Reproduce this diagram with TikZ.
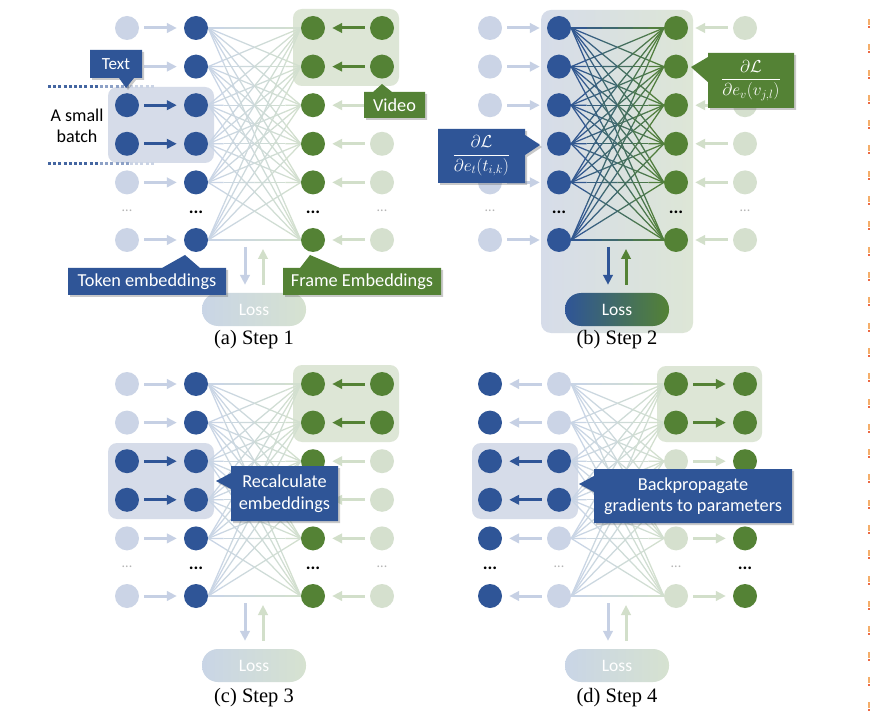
\documentclass[tikz,border=0pt]{standalone}
\usepackage{fontspec}
\setmainfont{Carlito}
\newfontfamily\capfont{Liberation Serif}
\usetikzlibrary{arrows.meta,shadows,calc}
\definecolor{dblue}{HTML}{2F5597}
\definecolor{dgreen}{HTML}{548235}
\definecolor{fblue}{HTML}{CBD4E6}
\definecolor{fgreen}{HTML}{D5E0CE}
\definecolor{boxblue}{HTML}{D6DCE9}
\definecolor{boxgreen}{HTML}{DDE6D6}
\definecolor{eblue}{HTML}{C8D4E7}
\definecolor{egreen}{HTML}{D3E0CC}
\definecolor{ablue}{HTML}{C6D0E4}
\definecolor{agreen}{HTML}{D2DFCA}
\definecolor{lossbl}{HTML}{C9D5E6}
\definecolor{lossgr}{HTML}{D6E2D0}
\definecolor{dotgray}{HTML}{B5B5B5}
\definecolor{markor}{HTML}{F5AE6A}
\definecolor{markrd}{HTML}{EC6A45}
\pgfdeclarelayer{paper}
\pgfdeclarelayer{boxes}
\pgfdeclarelayer{edges}
\pgfsetlayers{paper,boxes,edges,main}
\tikzset{
  nd/.style={circle, minimum size=24pt, inner sep=0pt, draw=none},
  arr/.style={line width=3pt, -{Triangle[length=10pt,width=9.5pt]}, shorten <=5pt, shorten >=7pt},
  varr/.style={line width=3pt, -{Triangle[length=10pt,width=9.5pt]}},
  edge/.style={line width=1.25pt},
  DD/.style={inner sep=0pt, text=black, font=\bfseries\fontsize{18}{18}\selectfont},
  DF/.style={inner sep=0pt, text=dotgray, font=\fontsize{14}{14}\selectfont},
  grpbox/.style={rounded corners=9pt},
  losspill/.style={rounded corners=16pt, minimum width=104pt, minimum height=33pt, inner sep=0pt, text=white, font=\fontsize{17.5}{17.5}\selectfont},
  callout/.style={drop shadow={shadow xshift=2pt, shadow yshift=-2pt, opacity=0.35, fill=black!60}},
  ctext/.style={text=white, align=center, inner sep=0pt, font=\fontsize{18.3}{21.5}\selectfont},
  mtext/.style={text=white, align=center, inner sep=0pt, font=\fontsize{18.5}{22}\selectfont},
  captext/.style={inner sep=0pt, font=\capfont\fontsize{20.5}{20.5}\selectfont},
  dotline/.style={line width=3pt, dash pattern=on 3pt off 2.2pt}
}
\newcommand{\gradline}[4]{%
  \foreach \k in {0,...,5}{%
    \pgfmathtruncatemacro\pp{(\k+0.5)*100/6}%
    \draw[edge, #4!\pp!#3] ($(#1)!\k/6!(#2)$) -- ($(#1)!{(\k+1)/6}!(#2)$);
  }}
% #1 prefix, #2 rows, #3 left dir, #4 right dir, #5 dots, #6/#7 edge colours
\newcommand{\net}[7]{%
  \foreach \r/\yy/\sa/\sb/\sc/\sd/\la/\ra in {#2}{%
    \node[nd, fill=\sa] (#1-c1-\r) at (127,\yy) {};
    \node[nd, fill=\sb] (#1-c2-\r) at (196,\yy) {};
    \node[nd, fill=\sc] (#1-c3-\r) at (313,\yy) {};
    \node[nd, fill=\sd] (#1-c4-\r) at (382,\yy) {};
    \ifnum#3=1 \draw[arr, color=\la] (#1-c1-\r) -- (#1-c2-\r);\else \draw[arr, color=\la] (#1-c2-\r) -- (#1-c1-\r);\fi
    \ifnum#4=1 \draw[arr, color=\ra] (#1-c4-\r) -- (#1-c3-\r);\else \draw[arr, color=\ra] (#1-c3-\r) -- (#1-c4-\r);\fi
  }%
  \foreach \xx/\dk [count=\n] in {#5}{%
    \ifnum\dk=1 \node[DD] (#1-dots-\n) at (\xx,212) {...};\else \node[DF] (#1-dots-\n) at (\xx,211) {...};\fi
  }%
  \begin{pgfonlayer}{edges}
    \foreach \i in {1,...,6}{\foreach \j in {1,...,6}{\gradline{#1-c2-\i.east}{#1-c3-\j.west}{#6}{#7}}}
  \end{pgfonlayer}
}
% #1 prefix, #2 down colour, #3 up colour, #4/#5 loss shading
\newcommand{\lossgroup}[5]{%
  \node[losspill, left color=#4, right color=#5] (#1-loss) at (254,309.5) {Loss};
  \coordinate (#1-dA) at (245,247);
  \coordinate (#1-uA) at (263,249);
  \draw[varr, color=#2, shorten >=8pt] (#1-dA) -- (#1-dA |- #1-loss.north);
  \draw[varr, color=#3, shorten <=8pt] (#1-uA |- #1-loss.north) -- (#1-uA);
}
\begin{document}
\begin{tikzpicture}[x=1pt,y=-1pt]
\begin{pgfonlayer}{paper}
\fill[white] (0,0) rectangle (870,719);
\end{pgfonlayer}
\useasboundingbox (0,0) rectangle (870,719);

% ---------------- (a) Step 1 ----------------
\begin{scope}
  \begin{pgfonlayer}{boxes}
    \fill[boxblue, grpbox] (108,87) rectangle (214,163);
    \fill[boxgreen, grpbox] (293,9) rectangle (399,86);
  \end{pgfonlayer}
  \net{a}{1/28/fblue/dblue/dgreen/dgreen/ablue/dgreen,
          2/66.6/fblue/dblue/dgreen/dgreen/ablue/dgreen,
          3/105.2/dblue/dblue/dgreen/fgreen/dblue/agreen,
          4/143.8/dblue/dblue/dgreen/fgreen/dblue/agreen,
          5/182.4/fblue/dblue/dgreen/fgreen/ablue/agreen,
          6/240/fblue/dblue/dgreen/fgreen/ablue/agreen}{1}{1}{127/0,196/1,313/1,382/0}{eblue}{egreen}
  \lossgroup{a}{ablue}{agreen}{lossbl}{lossgr}
  \node[captext] (cap-a) at (254,340) {(a) Step 1};
\end{scope}

% dotted batch limits
\draw[dotline, dblue!90] (48,87) -- (100,87);
\draw[dotline, dblue!55] (100,87) -- (130,87);
\draw[dotline, dblue!25] (130,87) -- (155,87);
\draw[dotline, dblue!90] (48,164) -- (100,164);
\draw[dotline, dblue!55] (100,164) -- (130,164);
\draw[dotline, dblue!25] (130,164) -- (155,164);
\node[align=center, inner sep=0pt, font=\fontsize{18}{21}\selectfont] (l-batch) at (77,125.5) {A small\\batch};

\fill[dblue, callout] (90,50) -- (142,50) -- (142,78) -- (134,78) -- (126,88) -- (119,78) -- (90,78) -- cycle;
\node[ctext, font=\fontsize{17}{19}\selectfont] (l-text) at (116,64) {Text};
\fill[dgreen, callout] (364,92) -- (373,92) -- (382,84) -- (392,92) -- (425,92) -- (425,118) -- (364,118) -- cycle;
\node[ctext] (l-video) at (394.5,105) {Video};
\fill[dblue, callout] (68,268) -- (162,268) -- (185,255) -- (200,268) -- (226,268) -- (226,295) -- (68,295) -- cycle;
\node[ctext] (l-token) at (147,281.5) {Token embeddings};
\fill[dgreen, callout] (283,268) -- (300,268) -- (310,255) -- (340,268) -- (441,268) -- (441,295) -- (283,295) -- cycle;
\node[ctext] (l-frame) at (362,281.5) {Frame Embeddings};

% ---------------- (b) Step 2 ----------------
\begin{scope}[shift={(363,0)}]
  \begin{pgfonlayer}{boxes}
    \shade[left color=boxblue, right color=boxgreen, rounded corners=10pt] (178,10) rectangle (330,333);
  \end{pgfonlayer}
  \net{b}{1/28/fblue/dblue/dgreen/fgreen/ablue/agreen,
          2/66.6/fblue/dblue/dgreen/fgreen/ablue/agreen,
          3/105.2/fblue/dblue/dgreen/fgreen/ablue/agreen,
          4/143.8/fblue/dblue/dgreen/fgreen/ablue/agreen,
          5/182.4/fblue/dblue/dgreen/fgreen/ablue/agreen,
          6/240/fblue/dblue/dgreen/fgreen/ablue/agreen}{1}{1}{127/0,196/1,313/1,382/0}{dblue}{dgreen}
  \lossgroup{b}{dblue}{dgreen}{dblue}{dgreen}
  \node[captext] (cap-b) at (254,340) {(b) Step 2};
\end{scope}
\fill[dblue, callout] (438,129) -- (525,129) -- (525,135) -- (540,145) -- (525,155) -- (525,183) -- (438,183) -- cycle;
\node[mtext] (l-gradt) at (481.5,156) {$\displaystyle\frac{\partial\mathcal{L}}{\partial e_t(t_{i,k})}$};
\fill[dgreen, callout] (708,53) -- (794,53) -- (794,108) -- (708,108) -- (708,82) -- (691,67) -- (708,57) -- cycle;
\node[mtext] (l-gradv) at (751,80.5) {$\displaystyle\frac{\partial\mathcal{L}}{\partial e_v(v_{j,l})}$};

% ---------------- (c) Step 3 ----------------
\begin{scope}[shift={(0,356)}]
  \begin{pgfonlayer}{boxes}
    \fill[boxblue, grpbox] (108,87) rectangle (214,163);
    \fill[boxgreen, grpbox] (293,9) rectangle (399,86);
  \end{pgfonlayer}
  \net{c}{1/28/fblue/dblue/dgreen/dgreen/ablue/dgreen,
          2/66.6/fblue/dblue/dgreen/dgreen/ablue/dgreen,
          3/105.2/dblue/dblue/dgreen/fgreen/dblue/agreen,
          4/143.8/dblue/dblue/dgreen/fgreen/dblue/agreen,
          5/182.4/fblue/dblue/dgreen/fgreen/ablue/agreen,
          6/240/fblue/dblue/dgreen/fgreen/ablue/agreen}{1}{1}{127/0,196/1,313/1,382/0}{eblue}{egreen}
  \lossgroup{c}{ablue}{agreen}{lossbl}{lossgr}
  \node[captext] (cap-c) at (254,342) {(c) Step 3};
\end{scope}
\fill[dblue, callout] (231,466) -- (338,466) -- (338,521) -- (231,521) -- (231,489) -- (216,481) -- (231,473) -- cycle;
\node[ctext] (l-recalc) at (284.5,493.5) {Recalculate\\embeddings};

% ---------------- (d) Step 4 ----------------
\begin{scope}[shift={(363,356)}]
  \begin{pgfonlayer}{boxes}
    \fill[boxblue, grpbox] (109,87) rectangle (215,163);
    \fill[boxgreen, grpbox] (294,10) rectangle (399,86);
  \end{pgfonlayer}
  \net{d}{1/28/dblue/fblue/dgreen/dgreen/ablue/dgreen,
          2/66.6/dblue/fblue/dgreen/dgreen/ablue/dgreen,
          3/105.2/dblue/dblue/fgreen/dgreen/dblue/agreen,
          4/143.8/dblue/dblue/fgreen/dgreen/dblue/agreen,
          5/182.4/dblue/fblue/fgreen/dgreen/ablue/agreen,
          6/240/dblue/fblue/fgreen/dgreen/ablue/agreen}{2}{2}{127/1,196/0,313/0,382/1}{eblue}{egreen}
  \lossgroup{d}{ablue}{agreen}{lossbl}{lossgr}
  \node[captext] (cap-d) at (254,342) {(d) Step 4};
\end{scope}
\fill[dblue, callout] (594,469) -- (792,469) -- (792,523) -- (594,523) -- (594,492) -- (579,484) -- (594,476) -- cycle;
\node[ctext] (l-backprop) at (693,496) {Backpropagate\\gradients to parameters};

% right-edge marks
\foreach \k in {0,...,27}{
  \fill[markor] (868,{19+25.3*\k}) rectangle (869.5,{25+25.3*\k});
  \fill[markrd] (868,{26+25.3*\k}) rectangle (869.5,{28+25.3*\k});
}
\end{tikzpicture}
\end{document}
